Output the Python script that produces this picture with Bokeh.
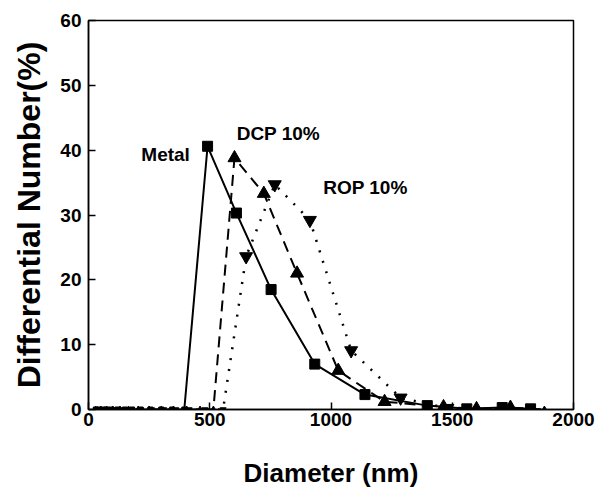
import numpy as np
from bokeh.plotting import figure
from bokeh.models import Range1d, ColumnDataSource
from bokeh.core.properties import value
from bokeh.embed import file_html
from bokeh.resources import INLINE

# Data
metal_x = [30, 45, 60, 75, 95, 120, 150, 180, 215, 255, 300, 345, 395,
           491, 610, 753, 933, 1140, 1397, 1560, 1706, 1823]
metal_y = [0, 0, 0, 0, 0, 0, 0, 0, 0, 0, 0, 0, 0,
           40.6, 30.3, 18.5, 7.0, 2.3, 0.6, 0.1, 0.3, 0.1]

dcp_x = [30, 50, 75, 100, 130, 165, 205, 250, 300, 350, 405, 460, 515,
         602, 723, 860, 1030, 1221, 1464, 1600, 1740, 1880]
dcp_y = [0, 0, 0, 0, 0, 0, 0, 0, 0, 0, 0, 0, 0,
         38.8, 33.3, 21.0, 6.0, 1.2, 0.4, 0.1, 0.3, 0.0]

rop_x = [35, 55, 80, 110, 140, 175, 215, 260, 310, 360, 415, 480, 555,
         650, 768, 913, 1083, 1287, 1480, 1700]
rop_y = [0, 0, 0, 0, 0, 0, 0, 0, 0, 0, 0, 0, 0,
         23.6, 34.7, 29.2, 9.1, 1.8, 0.2, 0.0]

labels = ["Metal", "DCP 10%", "ROP 10%"]
label_x = [318, 783, 1142]
label_y = [39.4, 42.6, 34.3]

x_ticks = [0, 500, 1000, 1500, 2000]
y_ticks = [0, 10, 20, 30, 40, 50, 60]

FONT = "Liberation Sans"

p = figure(width=614, height=498, output_backend="svg", toolbar_location=None,
           x_range=Range1d(0, 2000), y_range=Range1d(0, 60),
           min_border_left=88, min_border_right=41, min_border_top=20, min_border_bottom=89)
p.xgrid.visible = False
p.ygrid.visible = False
p.outline_line_color = "black"
p.outline_line_width = 1.5
p.background_fill_color = "white"
p.border_fill_color = "white"

for ax in (p.xaxis[0], p.yaxis[0]):
    ax.axis_line_width = 1.5
    ax.axis_line_color = "black"
    ax.major_tick_in = 7
    ax.major_tick_out = 0
    ax.minor_tick_in = 4
    ax.minor_tick_out = 0
    ax.major_tick_line_width = 1.5
    ax.minor_tick_line_width = 1.5
    ax.major_label_text_font = FONT
    ax.major_label_text_font_style = "bold"
    ax.major_label_text_font_size = "19px"
    ax.major_label_text_color = "black"
    ax.axis_label_text_font = FONT
    ax.axis_label_text_font_style = "bold"
    ax.axis_label_text_color = "black"

p.xaxis.ticker = x_ticks
p.xaxis[0].ticker.num_minor_ticks = 2
p.yaxis.ticker = y_ticks
p.yaxis[0].ticker.num_minor_ticks = 2
p.xaxis.axis_label = "Diameter (nm)"
p.yaxis.axis_label = "Differential Number(%)"
p.xaxis.axis_label_text_font_size = "26px"
p.yaxis.axis_label_text_font_size = "32px"
p.xaxis.major_label_standoff = 3
p.yaxis.major_label_standoff = 7
p.xaxis.axis_label_standoff = 29
p.yaxis.axis_label_standoff = 10

# lines
p.line(metal_x, metal_y, line_color="black", line_width=2)
p.line(dcp_x, dcp_y, line_color="black", line_width=2, line_dash="11 7")
p.line(rop_x, rop_y, line_color="black", line_width=2.5, line_dash="2 9")

def split(xs, ys):
    xs = np.array(xs, dtype=float); ys = np.array(ys, dtype=float)
    big = ys > 0.05
    return xs[big], ys[big], xs[~big], ys[~big]

mx, my, mzx, mzy = split(metal_x, metal_y)
dx, dy, dzx, dzy = split(dcp_x, dcp_y)
rx, ry, rzx, rzy = split(rop_x, rop_y)

p.scatter(mx, my, marker="square", size=10, color="black")
p.scatter(mzx, mzy, marker="square", size=5, color="black")
p.scatter(dx, dy, marker="triangle", size=13, color="black")
p.scatter(dzx, dzy, marker="triangle", size=6, color="black")
p.scatter(rx, ry, marker="inverted_triangle", size=13, color="black")
p.scatter(rzx, rzy, marker="inverted_triangle", size=6, color="black")

src = ColumnDataSource(dict(x=label_x, y=label_y, t=labels))
p.text(x="x", y="y", text="t", source=src, text_font=value(FONT), text_font_style="bold",
       text_font_size="19px", text_align="center", text_baseline="middle", text_color="black")

open("out.html", "w").write(file_html(p, INLINE))
